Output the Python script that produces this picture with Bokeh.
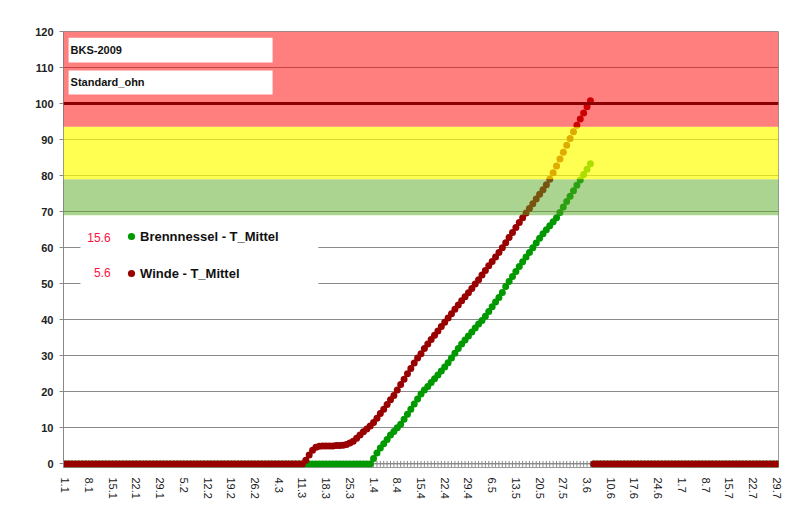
import math
from bokeh.plotting import figure
from bokeh.models import (ColumnDataSource, FixedTicker, BoxAnnotation, Span, Label,
                          Legend, LegendItem, Range1d)
from bokeh.embed import file_html
from bokeh.resources import INLINE
from bokeh.core.properties import value

# ---------------- data ----------------
tick_labels = ["1.1", "8.1", "15.1", "22.1", "29.1", "5.2", "12.2", "19.2", "26.2", "4.3",
               "11.3", "18.3", "25.3", "1.4", "8.4", "15.4", "22.4", "29.4", "6.5", "13.5",
               "20.5", "27.5", "3.6", "10.6", "17.6", "24.6", "1.7", "8.7", "15.7", "22.7", "29.7"]

# daily values 1.1 ... 29.7
winde = [
    0, 0, 0, 0, 0, 0, 0, 0, 0, 0,
    0, 0, 0, 0, 0, 0, 0, 0, 0, 0,
    0, 0, 0, 0, 0, 0, 0, 0, 0, 0,
    0, 0, 0, 0, 0, 0, 0, 0, 0, 0,
    0, 0, 0, 0, 0, 0, 0, 0, 0, 0,
    0, 0, 0, 0, 0, 0, 0, 0, 0, 0,
    0, 0, 0, 0, 0, 0, 0, 0, 0, 0,
    0, 1.0, 2.5, 3.8, 4.6, 4.9, 5.0, 5.0, 5.0, 5.0,
    5.1, 5.1, 5.2, 5.4, 5.8, 6.3, 7.1, 8.0, 8.9, 9.7,
    10.5, 11.5, 12.7, 14.0, 15.2, 16.5, 17.8, 19.0, 20.5, 22.0,
    23.5, 25.0, 26.5, 28.0, 29.4, 30.6, 32.0, 33.3, 34.5, 35.7,
    36.9, 38.1, 39.3, 40.5, 41.7, 42.9, 44.1, 45.3, 46.4, 47.5,
    48.7, 49.9, 51.1, 52.4, 53.7, 55.0, 56.2, 57.4, 58.7, 60.0,
    61.4, 62.8, 64.2, 65.6, 67.0, 68.3, 69.6, 70.9, 72.2, 73.5,
    74.8, 76.1, 77.5, 79.0, 80.8, 82.7, 84.6, 86.5, 88.4, 90.3,
    92.2, 94.0, 95.7, 97.4, 99.1, 100.8, 0, 0, 0, 0,
    0, 0, 0, 0, 0, 0, 0, 0, 0, 0,
    0, 0, 0, 0, 0, 0, 0, 0, 0, 0,
    0, 0, 0, 0, 0, 0, 0, 0, 0, 0,
    0, 0, 0, 0, 0, 0, 0, 0, 0, 0,
    0, 0, 0, 0, 0, 0, 0, 0, 0, 0,
    0,
]

brennnessel = [
    0, 0, 0, 0, 0, 0, 0, 0, 0, 0,
    0, 0, 0, 0, 0, 0, 0, 0, 0, 0,
    0, 0, 0, 0, 0, 0, 0, 0, 0, 0,
    0, 0, 0, 0, 0, 0, 0, 0, 0, 0,
    0, 0, 0, 0, 0, 0, 0, 0, 0, 0,
    0, 0, 0, 0, 0, 0, 0, 0, 0, 0,
    0, 0, 0, 0, 0, 0, 0, 0, 0, 0,
    0, 0, 0, 0, 0, 0, 0, 0, 0, 0,
    0, 0, 0, 0, 0, 0, 0, 0, 0, 0,
    0, 1.5, 3.0, 4.4, 5.6, 6.8, 8.0, 9.0, 10.0, 11.0,
    12.4, 13.8, 15.2, 16.6, 18.0, 19.4, 20.5, 21.5, 22.6, 23.6,
    24.7, 25.8, 26.9, 28.1, 29.4, 30.7, 32.0, 33.3, 34.4, 35.5,
    36.6, 37.7, 38.8, 39.8, 41.0, 42.3, 43.6, 44.9, 46.2, 47.6,
    49.2, 50.6, 52.0, 53.4, 54.8, 56.1, 57.4, 58.7, 60.0, 61.3,
    62.6, 63.9, 65.0, 66.1, 67.2, 68.3, 69.8, 71.3, 72.8, 74.3,
    75.8, 77.3, 78.8, 80.3, 81.8, 83.3, 0, 0, 0, 0,
    0, 0, 0, 0, 0, 0, 0, 0, 0, 0,
    0, 0, 0, 0, 0, 0, 0, 0, 0, 0,
    0, 0, 0, 0, 0, 0, 0, 0, 0, 0,
    0, 0, 0, 0, 0, 0, 0, 0, 0, 0,
    0, 0, 0, 0, 0, 0, 0, 0, 0, 0,
    0,
]

series_names = ["Brennnessel - T_Mittel", "Winde - T_Mittel"]
series_dates = ["15.6", "5.6"]
band_bottoms = [69, 79, 93.6]
band_tops = [79, 93.6, 120]
threshold = 100
title_lines = ["BKS-2009", "Standard_ohn"]

# ---------------- styles ----------------
FONT = "Liberation Sans"
c_winde = "#990000"
c_brenn = "#009900"
band_colors = ["#55AA22", "#FFFF00", "#FF0000"]
band_alphas = [0.5, 0.68, 0.5]

days = list(range(len(winde)))
src = ColumnDataSource(dict(x=days, winde=winde, brennnessel=brennnessel))

p = figure(width=788, height=513, x_range=Range1d(-0.5, 210.5), y_range=Range1d(-1, 120),
           output_backend="svg", toolbar_location=None,
           min_border_left=63, min_border_right=10, min_border_top=31, min_border_bottom=46)
p.background_fill_color = "white"
p.border_fill_color = "white"
p.outline_line_color = "#9a9a9a"

# axes
p.yaxis.ticker = FixedTicker(ticks=list(range(0, 121, 10)))
p.yaxis.major_label_text_font = FONT
p.yaxis.major_label_text_font_style = "bold"
p.yaxis.major_label_text_font_size = "11px"
p.yaxis.major_label_text_color = "#222222"
p.yaxis.axis_line_color = "#888888"
p.yaxis.major_tick_line_color = "#888888"
p.yaxis.major_tick_in = 0
p.yaxis.major_tick_out = 4
p.yaxis.minor_tick_line_color = None
p.yaxis.major_label_standoff = 6

major_pos = list(range(0, len(days), 7))
p.xaxis.ticker = FixedTicker(ticks=major_pos)
p.xaxis.major_label_overrides = {pos: lab for pos, lab in zip(major_pos, tick_labels)}
p.xaxis.major_label_orientation = "vertical"
p.xaxis.major_label_text_font = FONT
p.xaxis.major_label_text_font_size = "11px"
p.xaxis.major_label_text_color = "#1a1a1a"
p.xaxis.axis_line_color = None
p.xaxis.major_tick_line_color = None
p.xaxis.minor_tick_line_color = None
p.xaxis.major_label_standoff = 4

p.xgrid.grid_line_color = None
p.ygrid.grid_line_color = "#8a8a8a"
p.ygrid.grid_line_width = 1

# category axis at value 0 with a tick for every day (drawn beneath the series)
p.line("x", 0, source=src, line_color="#888888", line_width=1)
p.scatter("x", 0, source=src, marker="dash", angle=math.pi / 2, size=6,
          line_color="#888888", line_width=1)

# series (markers)
r_b = p.scatter("x", "brennnessel", source=src, size=7, color=c_brenn, line_color=None)
r_w = p.scatter("x", "winde", source=src, size=7, color=c_winde, line_color=None)

# translucent bands over the data
for b, t, c, a in zip(band_bottoms, band_tops, band_colors, band_alphas):
    p.add_layout(BoxAnnotation(bottom=b, top=t, fill_color=c, fill_alpha=a, line_color=None))

p.add_layout(Span(location=threshold, dimension="width", line_color="#8B0000", line_width=3))

# title boxes
for (yb, yt), txt in zip([(111.4, 118.3), (102.5, 109.2)], title_lines):
    p.add_layout(BoxAnnotation(left=1.0, right=61.2, bottom=yb, top=yt,
                               fill_color="white", fill_alpha=1, line_color=None))
    p.add_layout(Label(x=1.6, y=(yb + yt) / 2, text=txt, text_font=FONT, text_font_style="bold",
                       text_font_size="11px", text_baseline="middle", text_color="#111111"))

# legend background
p.add_layout(BoxAnnotation(left=4.5, right=74.7, bottom=45.3, top=66.9,
                           fill_color="white", fill_alpha=1, line_color=None))

legend = Legend(items=[LegendItem(label=series_names[0], renderers=[r_b]),
                       LegendItem(label=series_names[1], renderers=[r_w])],
                location=(59, 184), background_fill_alpha=0, border_line_color=None,
                label_text_font=FONT, label_text_font_style="bold", label_text_font_size="13px",
                label_text_color="#111111",
                glyph_width=18, glyph_height=18, label_height=20, spacing=17, padding=4,
                label_standoff=0, margin=0)
p.add_layout(legend)

for yy, txt in zip([62.8, 53.1], series_dates):
    p.add_layout(Label(x=13.4, y=yy, text=txt, text_font=FONT, text_font_size="12px",
                       text_align="right", text_baseline="middle", text_color="#FF1040"))

# outer chart-area frame
p.add_layout(BoxAnnotation(left=12, right=787, top=5, bottom=530,
                           left_units="canvas", right_units="canvas",
                           top_units="canvas", bottom_units="canvas",
                           fill_alpha=0, line_color="#a0a0a0", line_width=1))

open("out.html", "w").write(file_html(p, INLINE))
